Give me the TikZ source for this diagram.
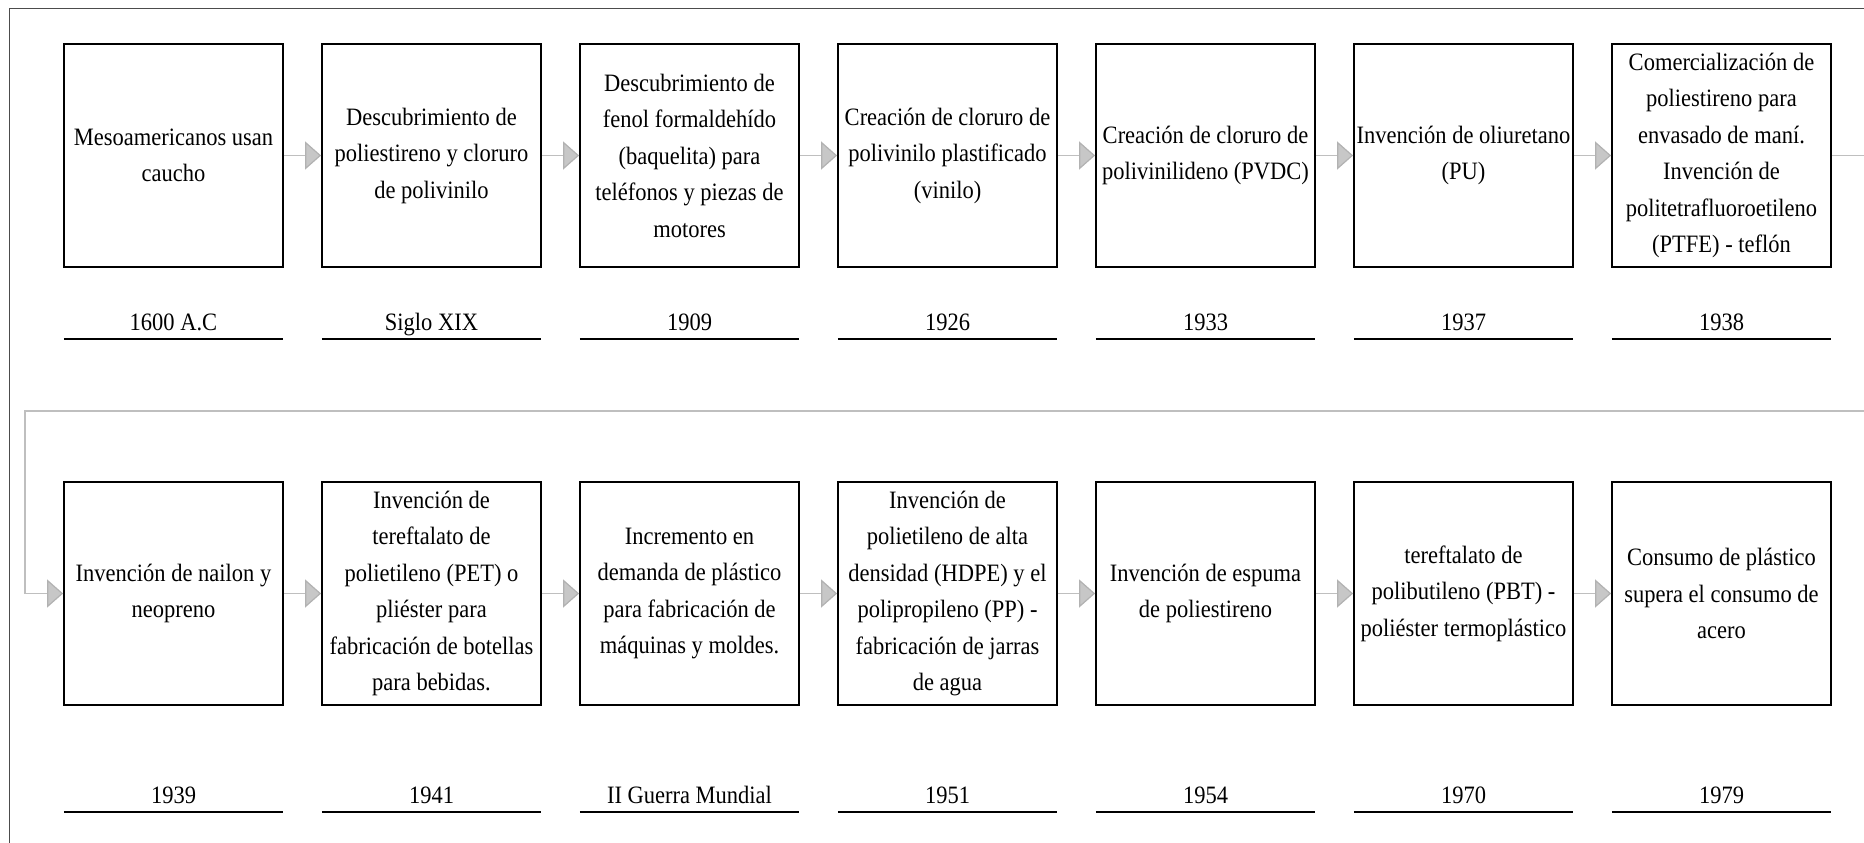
\documentclass[tikz,border=0pt]{standalone}
\usepackage{fontspec}
\setmainfont{Liberation Serif}[FakeStretch=0.9]
\usepackage{tikz}
\usetikzlibrary{arrows.meta}

\begin{document}
\begin{tikzpicture}[x=1pt,y=-1pt,
	evento/.style={draw=black,line width=1.8pt,minimum width=219pt,minimum height=223pt,
		inner sep=2pt,align=center,font=\fontsize{25}{36.5}\selectfont},
	fecha/.style={minimum width=219pt,minimum height=36pt,inner sep=0pt,
		text height=20pt,text depth=2pt,font=\fontsize{25}{30}\selectfont},
	raya/.style={line width=1.8pt,black},
	flecha/.style={draw=black!25,line width=1.2pt,
		-{Triangle[length=16pt,width=28pt,fill=black!22,color=black!30]}}]
	\clip (0,0) rectangle (1864,843);
	\useasboundingbox (0,0) rectangle (1864,843);
	\fill[white] (0,0) rectangle (1864,843);
	\draw[black!70,line width=1pt] (9,9) rectangle (1900,900); % marco
	% primera fila
	\node[evento] (b1) at (173.5,155.5) {Mesoamericanos usan\\caucho};
	\node[evento] (b2) at (431.5,155.5) {Descubrimiento de\\poliestireno y cloruro\\de polivinilo};
	\node[evento] (b3) at (689.5,155.5) {Descubrimiento de\\fenol formaldehído\\(baquelita) para\\teléfonos y piezas de\\motores};
	\node[evento] (b4) at (947.5,155.5) {Creación de cloruro de\\polivinilo plastificado\\(vinilo)};
	\node[evento] (b5) at (1205.5,155.5) {Creación de cloruro de\\polivinilideno (PVDC)};
	\node[evento] (b6) at (1463.5,155.5) {Invención de oliuretano\\(PU)};
	\node[evento] (b7) at (1721.5,155.5) {Comercialización de\\poliestireno para\\envasado de maní.\\Invención de\\politetrafluoroetileno\\(PTFE) - teflón};
	% segunda fila
	\node[evento] (b8) at (173.5,593.5) {Invención de nailon y\\neopreno};
	\node[evento] (b9) at (431.5,593.5) {Invención de\\tereftalato de\\polietileno (PET) o\\pliéster para\\fabricación de botellas\\para bebidas.};
	\node[evento] (b10) at (689.5,593.5) {Incremento en\\demanda de plástico\\para fabricación de\\máquinas y moldes.};
	\node[evento] (b11) at (947.5,593.5) {Invención de\\polietileno de alta\\densidad (HDPE) y el\\polipropileno (PP) -\\fabricación de jarras\\de agua};
	\node[evento] (b12) at (1205.5,593.5) {Invención de espuma\\de poliestireno};
	\node[evento] (b13) at (1463.5,593.5) {tereftalato de\\polibutileno (PBT) -\\poliéster termoplástico};
	\node[evento] (b14) at (1721.5,593.5) {Consumo de plástico\\supera el consumo de\\acero};
	% fechas
	\node[fecha] (d1) at (173.5,321) {1600 A.C};
	\node[fecha] (d2) at (431.5,321) {Siglo XIX};
	\node[fecha] (d3) at (689.5,321) {1909};
	\node[fecha] (d4) at (947.5,321) {1926};
	\node[fecha] (d5) at (1205.5,321) {1933};
	\node[fecha] (d6) at (1463.5,321) {1937};
	\node[fecha] (d7) at (1721.5,321) {1938};
	\node[fecha] (d8) at (173.5,794) {1939};
	\node[fecha] (d9) at (431.5,794) {1941};
	\node[fecha] (d10) at (689.5,794) {II Guerra Mundial};
	\node[fecha] (d11) at (947.5,794) {1951};
	\node[fecha] (d12) at (1205.5,794) {1954};
	\node[fecha] (d13) at (1463.5,794) {1970};
	\node[fecha] (d14) at (1721.5,794) {1979};
	\foreach \i in {1,...,14}
		\draw[raya] (d\i.south west) -- (d\i.south east);
	% flechas
	\foreach \i in {1,...,6,8,9,10,11,12,13} {
		\pgfmathtruncatemacro\j{\i+1}
		\draw[flecha] (b\i) -- (b\j);
	}
	\draw[flecha] (b7.east) -- ++(70,0) |- (25,411) |- (b8.west); % vuelta a la segunda fila
\end{tikzpicture}
\end{document}
